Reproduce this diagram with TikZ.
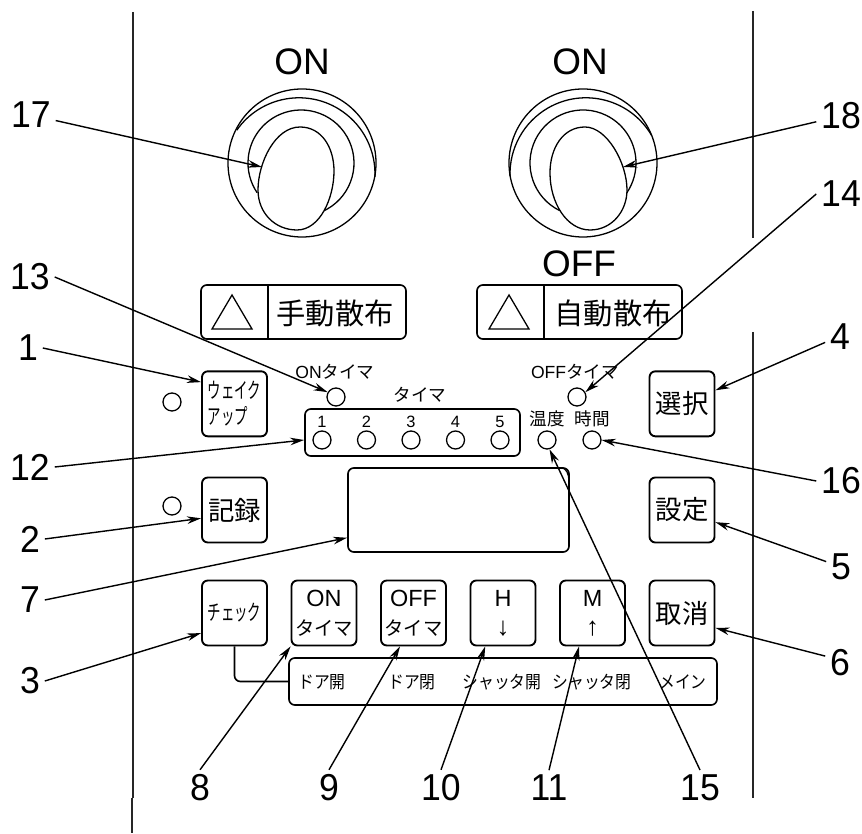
\documentclass[tikz,border=0pt]{standalone}
\usepackage{fontspec}
\setmainfont{Liberation Sans}
\newfontfamily\jpfont{Noto Sans CJK JP}
\newfontfamily\jpnarrow[FakeStretch=.62]{Noto Sans CJK JP}
\newfontfamily\jptag[FakeStretch=.9]{Noto Sans CJK JP}
\newfontfamily\numfont[FakeStretch=.95]{Liberation Sans}
\usetikzlibrary{arrows.meta}
\tikzstyle{rail}=[line width=1.1pt,black!85]
\tikzstyle{keybox}=[rectangle,rounded corners=5pt,minimum size=1.95cm,inner sep=0pt,text centered,align=center,draw=black,line width=1.6pt,font=\jpfont\fontsize{22.5}{25}\selectfont]
\tikzstyle{smallkey}=[keybox,font=\jpfont\fontsize{16.5}{24.5}\selectfont]
\tikzstyle{narrowkey}=[keybox,font=\jpnarrow\fontsize{18.5}{22}\selectfont]
\tikzstyle{led}=[circle,minimum size=.54cm,inner sep=0pt,draw=black,line width=1.1pt]
\tikzstyle{panel}=[rectangle,rounded corners=5pt,inner sep=0pt,draw=black,line width=1.4pt]
\tikzstyle{tag}=[inner sep=0pt,font=\jptag\fontsize{15}{16}\selectfont]
\tikzstyle{ledtag}=[inner sep=0pt,font=\jpfont\fontsize{15}{16}\selectfont]
\tikzstyle{digit}=[inner sep=0pt,font=\fontsize{14}{14}\selectfont]
\tikzstyle{num}=[inner sep=4pt,font=\numfont\fontsize{32}{33}\selectfont]
\tikzstyle{sw}=[inner sep=0pt,font=\fontsize{31.5}{32}\selectfont]
\tikzstyle{platetext}=[inner sep=0pt,font=\jpfont\fontsize{25}{26}\selectfont]
\tikzstyle{arrow}=[line width=1.2pt,-{Stealth[length=12pt,width=6.5pt]}]
\tikzstyle{ring}=[line width=1.1pt]
\newcommand{\keyhead}[1]{{\fontsize{20}{24}\selectfont\rmfamily #1}}

\begin{document}
\begin{tikzpicture}[x=.03cm,y=.03cm,node distance=2.685cm]
\useasboundingbox (0,0) rectangle (862,833);

% side rails
\draw[rail] (133,821) -- (133,35);
\draw[rail] (132,35) -- (132,0);
\draw[rail] (753,822) -- (753,595);
\draw[rail] (753,501) -- (753,35);

% keys
\node (chk) [narrowkey] at (234.5,220) {チェック};
\node (ontm) [smallkey,right of=chk] {\keyhead{ON}\\タイマ};
\node (offtm) [smallkey,right of=ontm] {\keyhead{OFF}\\タイマ};
\node (hdown) [smallkey,right of=offtm] {\keyhead{H}\\{\rmfamily\fontsize{22}{24}\selectfont ↓}};
\node (mup) [smallkey,right of=hdown] {\keyhead{M}\\{\rmfamily\fontsize{22}{24}\selectfont ↑}};
\node (cancel) [keybox,right of=mup] {取消};
\node (rec) [keybox,above of=chk,yshift=.405cm] {記録};
\node (wake) [narrowkey,align=left,above of=rec,yshift=.5cm] {ウェイク\\アップ};
\node (setb) [keybox,above of=cancel,yshift=.405cm] {設定};
\node (sel) [keybox,above of=setb,yshift=.5cm] {選択};

% panels
\node (door) [panel,minimum width=12.84cm,minimum height=1.41cm] at (503,151.5) {};
\node (tmstrip) [panel,minimum width=6.45cm,minimum height=1.41cm] at (412.5,400.5) {};
\node (disp) [panel,minimum width=6.63cm,minimum height=2.52cm] at (458.5,323) {};
\node (lplate) [panel,minimum width=6.15cm,minimum height=1.62cm] at (303.5,521) {};
\node (rplate) [panel,minimum width=6.15cm,minimum height=1.62cm] at (579.5,521) {};

% door labels
\node (d1) [tag] at (322,151) {ドア開};
\node (d2) [tag] at (412,151) {ドア閉};
\node (d3) [tag] at (502,151) {シャッタ開};
\node (d4) [tag] at (592,151) {シャッタ閉};
\node (d5) [tag] at (683,151) {メイン};
\draw[line width=1.4pt,rounded corners=5pt] (chk.south) |- (door.west);

% plates
\node (ltext) [platetext] at (335,520) {手動散布};
\node (rtext) [platetext] at (613,520) {自動散布};
\draw[line width=1.3pt] (268,494) -- (268,548);
\draw[line width=1.3pt] (544,494) -- (544,548);
\draw[line width=1.1pt] (232,538) -- (252,504) -- (212,504) -- cycle;
\draw[line width=1.1pt] (509,538) -- (529,504) -- (489,504) -- cycle;

% timer leds
\node (tl1) [led] at (322,393) {};
\node (tl2) [led,right of=tl1,node distance=1.335cm] {};
\node (tl3) [led,right of=tl2,node distance=1.335cm] {};
\node (tl4) [led,right of=tl3,node distance=1.335cm] {};
\node (tl5) [led,right of=tl4,node distance=1.335cm] {};
\node (dg1) [digit,above of=tl1,node distance=.54cm] {1};
\node (dg2) [digit,above of=tl2,node distance=.54cm] {2};
\node (dg3) [digit,above of=tl3,node distance=.54cm] {3};
\node (dg4) [digit,above of=tl4,node distance=.54cm] {4};
\node (dg5) [digit,above of=tl5,node distance=.54cm] {5};
\node (tmt) [ledtag] at (420,438) {タイマ};
\node (onled) [led] at (336,436) {};
\node (ont) [ledtag] at (335,461) {{\rmfamily ON}タイマ};
\node (offled) [led] at (577,436) {};
\node (offt) [ledtag] at (575,461) {{\rmfamily OFF}タイマ};
\node (templed) [led] at (547,393) {};
\node (timeled) [led] at (592,393) {};
\node (tempt) [ledtag] at (547,414) {温度};
\node (timet) [ledtag] at (592,414) {時間};
\node (wled) [led] at (172,431) {};
\node (rled) [led] at (172,327) {};
\draw[ring] (562,365) arc (90:0:7 and 13);

% switches
\node (lon) [sw] at (302,771) {ON};
\node (ron) [sw] at (580,771) {ON};
\node (roff) [sw] at (579,569) {OFF};
\draw[ring] (302,670) circle (74);
\draw[ring] (583,670) circle (74);
\draw[ring] (299,659.2) ++(145:76) arc (145:-2.4:76);
\draw[ring] (586,659.2) ++(30:76) arc (30:182:76);
\draw[ring] (301,670) ++(-66:53) arc (-66:214:53);
\draw[ring] (583,670) ++(244:53) arc (244:-34:53);
\draw[ring,fill=white] (300,706) .. controls (275,706) and (258,670) .. (258,643) .. controls (258,620) and (275,603) .. (297,603) .. controls (320,603) and (334,635) .. (334,662) .. controls (334,685) and (322,706) .. (300,706) -- cycle;
\draw[ring,fill=white] (585,706) .. controls (563,706) and (550,685) .. (550,660) .. controls (550,630) and (567,603) .. (590,603) .. controls (612,603) and (627,622) .. (627,643) .. controls (627,670) and (607,706) .. (585,706) -- cycle;

% numbers
\node (n17) [num] at (31,718) {17};
\node (n18) [num] at (841,717) {18};
\node (n14) [num] at (841,639) {14};
\node (n13) [num] at (30,556) {13};
\node (n1) [num] at (28,485) {1};
\node (n4) [num] at (840,496) {4};
\node (n12) [num] at (30,366) {12};
\node (n16) [num] at (841,352) {16};
\node (n2) [num] at (30,294) {2};
\node (n5) [num] at (841,266) {5};
\node (n7) [num] at (30,233) {7};
\node (n3) [num] at (30,152) {3};
\node (n6) [num] at (840,170) {6};
\node (n8) [num] at (200,45) {8};
\node (n9) [num] at (329,45) {9};
\node (n10) [num] at (441,45) {10};
\node (n11) [num] at (549,45) {11};
\node (n15) [num] at (700,45) {15};

% leader lines
\coordinate (tip17) at (262,666);
\coordinate (tip18) at (623,666);
\draw[arrow] (n17) -- (tip17);
\draw[arrow] (n18) -- (tip18);
\draw[arrow] (n14.west) -- (offled.30);
\draw[arrow] (n13.east) -- (onled.150);
\draw[arrow] (n1.east) -- (wake.147);
\draw[arrow] (n4.200) -- (sel.22);
\draw[arrow] (n12.east) -- (tmstrip.west |- tl1);
\draw[arrow] (n16.west) -- (timeled.east);
\draw[arrow] (n2.east) -- (rec.194);
\draw[arrow] (n5.160) -- (setb.340);
\draw[arrow] (n7.east) -- (disp.194);
\draw[arrow] (n3.east) -- (chk.211);
\draw[arrow] (n6.155) -- (cancel.336);
\draw[arrow] (n8.north) -- (ontm.south west);
\draw[arrow] (n9.north) -- (offtm.248);
\draw[arrow] (n10.north) -- (hdown.242);
\draw[arrow] (n11.north) -- (mup.248);
\draw[arrow] (n15.north) -- (templed.285);
\end{tikzpicture}
\end{document}
